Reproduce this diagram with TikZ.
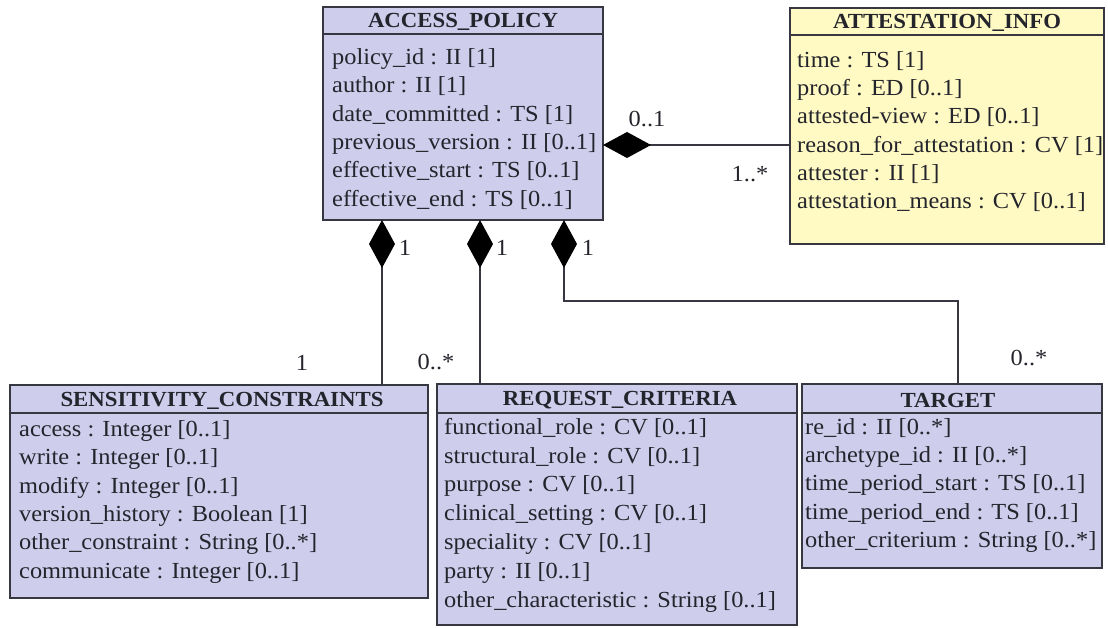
\documentclass[tikz,border=0pt]{standalone}
\usepackage{fontspec}
\setmainfont{Liberation Serif}[FakeStretch=1.06]
\usetikzlibrary{arrows.meta}
\definecolor{lav}{RGB}{206,205,236}
\definecolor{yel}{RGB}{255,250,195}
\definecolor{ink}{RGB}{36,36,44}
\definecolor{edge}{RGB}{55,55,65}
\begin{document}
\begin{tikzpicture}[x=1pt,y=-1pt,
  classbox/.style={draw=edge, line width=2pt, inner sep=0pt, outer sep=0pt},
  hdr/.style={font=\fontsize{21.5}{24}\selectfont\bfseries, text=ink, inner sep=0pt},
  attr/.style={font=\fontsize{23}{26}\selectfont, text=ink, inner sep=0pt, anchor=mid west},
  mult/.style={font=\fontsize{23}{26}\selectfont, text=ink, inner sep=0pt},
  conn/.style={draw=edge, line width=2pt},
  comp/.style={conn, {Diamond[length=48pt,width=26pt,color=black]}-}
]
\useasboundingbox (0,0) rectangle (1108,628);

% class boxes
\node[classbox, fill=lav, minimum width=280pt, minimum height=213pt] (ap) at (463,113.5) {};
\node[classbox, fill=yel, minimum width=314pt, minimum height=236pt] (att) at (947,126) {};
\node[classbox, fill=lav, minimum width=418pt, minimum height=213pt] (sc) at (219,491.5) {};
\node[classbox, fill=lav, minimum width=360pt, minimum height=241pt] (rc) at (617,504.5) {};
\node[classbox, fill=lav, minimum width=300pt, minimum height=184pt] (tg) at (952,476) {};

% header separators
\draw[conn] ([yshift=-27pt]ap.north west) -- ([yshift=-27pt]ap.north east);
\draw[conn] ([yshift=-27pt]att.north west) -- ([yshift=-27pt]att.north east);
\draw[conn] ([yshift=-28pt]sc.north west) -- ([yshift=-28pt]sc.north east);
\draw[conn] ([yshift=-29pt]rc.north west) -- ([yshift=-29pt]rc.north east);
\draw[conn] ([yshift=-29pt]tg.north west) -- ([yshift=-29pt]tg.north east);

% headers
\node[hdr] (aph) at (463,22) {ACCESS\_POLICY};
\node[hdr] (atth) at (947,23) {ATTESTATION\_INFO};
\node[hdr] (sch) at (222,401) {SENSITIVITY\_CONSTRAINTS};
\node[hdr] (rch) at (620,400) {REQUEST\_CRITERIA};
\node[hdr] (tgh) at (948,400) {TARGET};

% attributes
\foreach \t [count=\i] in {policy\_id : II [1], author : II [1], date\_committed : TS [1], previous\_version : II [0..1], effective\_start : TS [0..1], effective\_end : TS [0..1]}
  \node[attr] (apa\i) at (332,{62+28.4*(\i-1)}) {\t};
\foreach \t [count=\i] in {time : TS [1], proof : ED [0..1], attested-view : ED [0..1], reason\_for\_attestation : CV [1], attester : II [1], attestation\_means : CV [0..1]}
  \node[attr] (atta\i) at (797,{65+28.3*(\i-1)}) {\t};
\foreach \t [count=\i] in {access : Integer [0..1], write : Integer [0..1], modify : Integer [0..1], version\_history : Boolean [1], other\_constraint : String [0..*], communicate : Integer [0..1]}
  \node[attr] (sca\i) at (19,{434+28.4*(\i-1)}) {\t};
\foreach \t [count=\i] in {functional\_role : CV [0..1], structural\_role : CV [0..1], purpose : CV [0..1], clinical\_setting : CV [0..1], speciality : CV [0..1], party : II [0..1], other\_characteristic : String [0..1]}
  \node[attr] (rca\i) at (444,{432+28.8*(\i-1)}) {\t};
\foreach \t [count=\i] in {re\_id : II [0..*], archetype\_id : II [0..*], time\_period\_start : TS [0..1], time\_period\_end : TS [0..1], other\_criterium : String [0..*]}
  \node[attr] (tga\i) at (805,{432+28.3*(\i-1)}) {\t};

% connectors
\coordinate (x1) at (382,0);
\coordinate (x2) at (480,0);
\coordinate (x3) at (564,0);
\coordinate (x4) at (958,0);
\coordinate (yb) at (0,301);
\coordinate (yh) at (0,145);
\draw[comp] (ap.east |- yh) -- (att.west |- yh);
\draw[comp] (x1 |- ap.south) -- (x1 |- sc.north);
\draw[comp] (x2 |- ap.south) -- (x2 |- rc.north);
\draw[comp] (x3 |- ap.south) -- (x3 |- yb) -- (x4 |- yb) -- (x4 |- tg.north);

% multiplicities
\node[mult] (m1) at (647,119) {0..1};
\node[mult] (m2) at (750,174) {1..*};
\node[mult] (m3) at (405,248) {1};
\node[mult] (m4) at (302,363) {1};
\node[mult] (m5) at (502,248) {1};
\node[mult] (m6) at (436,362) {0..*};
\node[mult] (m7) at (588,248) {1};
\node[mult] (m8) at (1029,358) {0..*};
\end{tikzpicture}
\end{document}
